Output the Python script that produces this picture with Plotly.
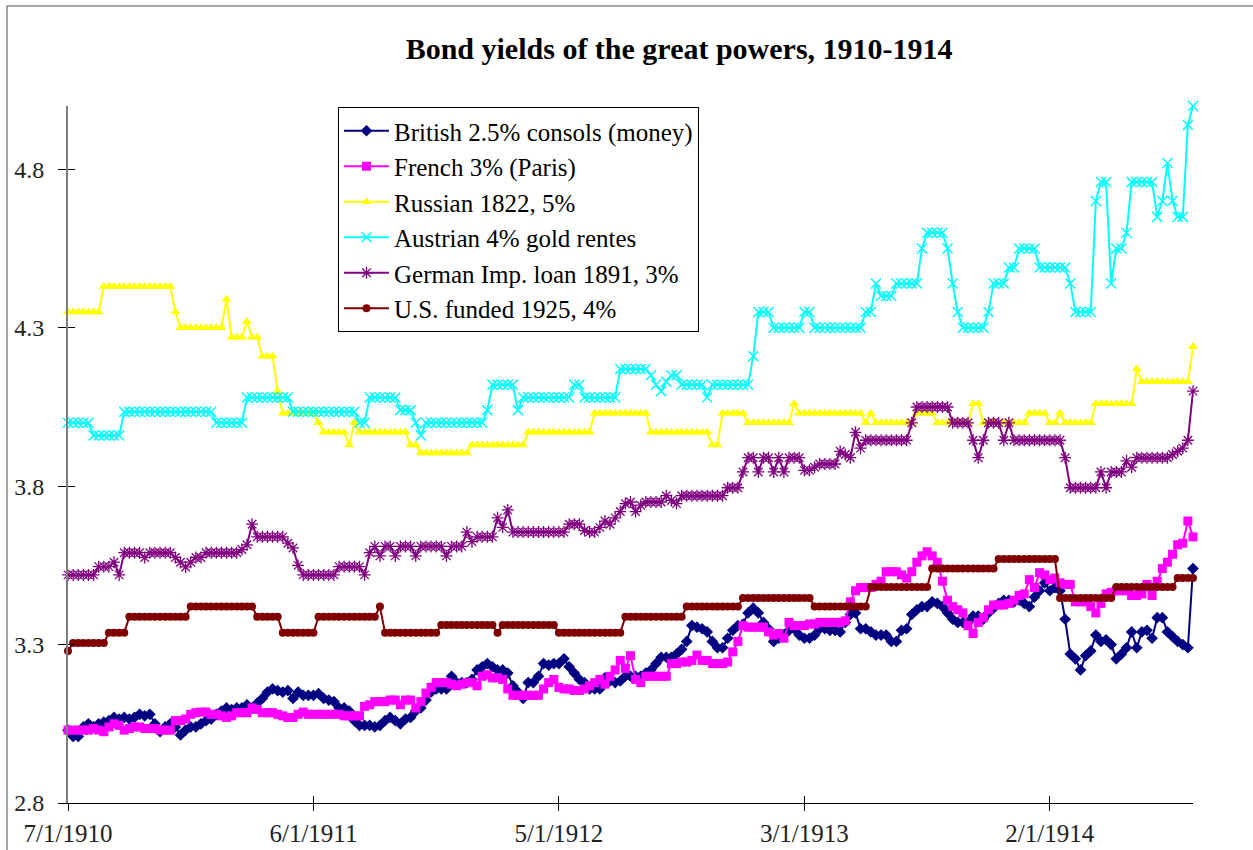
import plotly.graph_objects as go

tick_labels = ["7/1/1910", "6/1/1911", "5/1/1912", "3/1/1913", "2/1/1914"]
tick_weeks = [0, 48, 96, 144, 192]

british = [
    3.03, 3.01, 3.01, 3.04, 3.05, 3.04, 3.05, 3.055, 3.06, 3.07,
    3.065, 3.07, 3.065, 3.07, 3.08, 3.075, 3.08, 3.05, 3.025, 3.04,
    3.05, 3.04, 3.015, 3.03, 3.04, 3.04, 3.05, 3.06, 3.065, 3.08,
    3.09, 3.10, 3.095, 3.10, 3.10, 3.11, 3.10, 3.115, 3.13, 3.15,
    3.16, 3.155, 3.15, 3.155, 3.13, 3.15, 3.14, 3.14, 3.14, 3.145,
    3.13, 3.125, 3.12, 3.10, 3.10, 3.09, 3.06, 3.045, 3.045, 3.045,
    3.04, 3.045, 3.06, 3.07, 3.06, 3.05, 3.065, 3.07, 3.09, 3.10,
    3.125, 3.15, 3.16, 3.16, 3.16, 3.20, 3.18, 3.18, 3.18, 3.19,
    3.22, 3.23, 3.24, 3.23, 3.22, 3.22, 3.21, 3.17, 3.15, 3.13,
    3.18, 3.18, 3.20, 3.24, 3.235, 3.24, 3.24, 3.255, 3.23, 3.21,
    3.19, 3.18, 3.16, 3.16, 3.16, 3.195, 3.185, 3.18, 3.185, 3.20,
    3.20, 3.20, 3.20, 3.21, 3.22, 3.24, 3.26, 3.26, 3.26, 3.27,
    3.285, 3.31, 3.36, 3.355, 3.35, 3.34, 3.31, 3.29, 3.29, 3.32,
    3.345, 3.36, 3.365, 3.40, 3.415, 3.40, 3.37, 3.35, 3.31, 3.32,
    3.33, 3.345, 3.35, 3.33, 3.32, 3.32, 3.33, 3.35, 3.35, 3.345,
    3.345, 3.34, 3.37, 3.395, 3.40, 3.35, 3.35, 3.34, 3.33, 3.33,
    3.33, 3.31, 3.31, 3.345, 3.35, 3.395, 3.41, 3.42, 3.42, 3.435,
    3.43, 3.42, 3.40, 3.38, 3.37, 3.37, 3.37, 3.39, 3.39, 3.38,
    3.40, 3.415, 3.43, 3.44, 3.44, 3.435, 3.44, 3.43, 3.42, 3.45,
    3.47, 3.495, 3.47, 3.48, 3.47, 3.38, 3.27, 3.255, 3.22, 3.265,
    3.28, 3.33, 3.31, 3.315, 3.30, 3.255, 3.27, 3.29, 3.34, 3.29,
    3.34, 3.345, 3.32, 3.385, 3.385, 3.34, 3.325, 3.31, 3.30, 3.29,
    3.54,
]

french = [
    3.03, 3.03, 3.03, 3.03, 3.03, 3.035, 3.03, 3.025, 3.04, 3.05,
    3.045, 3.03, 3.035, 3.04, 3.04, 3.035, 3.035, 3.035, 3.03, 3.03,
    3.03, 3.06, 3.06, 3.065, 3.08, 3.085, 3.087, 3.087, 3.08, 3.08,
    3.075, 3.07, 3.075, 3.085, 3.085, 3.085, 3.10, 3.095, 3.085, 3.085,
    3.085, 3.08, 3.075, 3.07, 3.07, 3.08, 3.087, 3.08, 3.08, 3.08,
    3.08, 3.08, 3.08, 3.08, 3.075, 3.075, 3.075, 3.075, 3.105, 3.11,
    3.12, 3.12, 3.12, 3.125, 3.125, 3.11, 3.125, 3.125, 3.10, 3.12,
    3.147, 3.165, 3.18, 3.18, 3.18, 3.175, 3.17, 3.175, 3.18, 3.18,
    3.17, 3.20, 3.205, 3.195, 3.195, 3.19, 3.16, 3.14, 3.14, 3.14,
    3.14, 3.14, 3.14, 3.16, 3.18, 3.19, 3.165, 3.16, 3.16, 3.155,
    3.155, 3.16, 3.17, 3.18, 3.19, 3.175, 3.20, 3.22, 3.25, 3.225,
    3.265, 3.19, 3.18, 3.20, 3.20, 3.20, 3.20, 3.20, 3.24, 3.24,
    3.245, 3.245, 3.25, 3.267, 3.25, 3.25, 3.24, 3.24, 3.24, 3.245,
    3.277, 3.31, 3.36, 3.355, 3.355, 3.355, 3.355, 3.34, 3.33, 3.335,
    3.32, 3.37, 3.36, 3.36, 3.36, 3.365, 3.365, 3.37, 3.37, 3.37,
    3.37, 3.37, 3.375, 3.435, 3.47, 3.48, 3.48, 3.48, 3.49, 3.50,
    3.53, 3.53, 3.53, 3.52, 3.51, 3.53, 3.56, 3.58, 3.593, 3.58,
    3.56, 3.50, 3.44, 3.42, 3.41, 3.40, 3.36, 3.335, 3.37, 3.385,
    3.41, 3.425, 3.425, 3.425, 3.43, 3.44, 3.455, 3.46, 3.505, 3.48,
    3.527, 3.52, 3.505, 3.51, 3.495, 3.49, 3.49, 3.435, 3.435, 3.435,
    3.42, 3.40, 3.43, 3.46, 3.465, 3.47, 3.47, 3.47, 3.455, 3.455,
    3.46, 3.49, 3.455, 3.50, 3.54, 3.56, 3.585, 3.615, 3.62, 3.69,
    3.64,
]

# step-like series stored as (value, number of consecutive weeks)
russian_runs = [
    (4.35, 7), (4.43, 14), (4.35, 1), (4.30, 9), (4.39, 1), (4.27, 3), (4.32, 1),
    (4.27, 2), (4.21, 3), (4.10, 1), (4.03, 7), (4.00, 1), (3.97, 5), (3.93, 1),
    (4.00, 1), (3.97, 10), (3.93, 2), (3.905, 10), (3.93, 11), (3.97, 13),
    (4.03, 11), (3.97, 12), (3.93, 2), (4.03, 5), (4.00, 9), (4.06, 1),
    (4.03, 13), (4.00, 1), (4.03, 1), (4.00, 8), (4.03, 4), (4.00, 7), (4.06, 2),
    (4.00, 9), (4.03, 4), (4.00, 2), (4.03, 1), (4.00, 6), (4.06, 8), (4.17, 1),
    (4.13, 10), (4.24, 1),
]

austrian_runs = [
    (4.00, 5), (3.96, 6), (4.035, 18), (4.00, 6), (4.08, 9), (4.035, 13),
    (4.00, 2), (4.08, 6), (4.04, 3), (4.00, 1), (3.96, 1), (4.00, 12), (4.04, 1),
    (4.12, 5), (4.04, 1), (4.08, 10), (4.12, 2), (4.08, 7), (4.17, 6), (4.15, 1),
    (4.12, 1), (4.10, 1), (4.13, 1), (4.15, 2), (4.12, 5), (4.08, 1), (4.12, 8),
    (4.21, 1), (4.35, 3), (4.30, 6), (4.35, 2), (4.30, 10), (4.35, 2), (4.44, 1),
    (4.40, 3), (4.44, 5), (4.55, 1), (4.60, 4), (4.55, 1), (4.44, 1), (4.35, 1),
    (4.30, 5), (4.35, 1), (4.44, 3), (4.49, 2), (4.55, 4), (4.49, 6), (4.44, 1),
    (4.35, 4), (4.70, 1), (4.76, 2), (4.44, 1), (4.55, 2), (4.60, 1), (4.76, 5),
    (4.65, 1), (4.70, 1), (4.82, 1), (4.70, 1), (4.65, 2), (4.94, 1), (5.00, 1),
]

german_runs = [
    (3.52, 6), (3.546, 3), (3.56, 1), (3.52, 1), (3.59, 4), (3.575, 1), (3.59, 5),
    (3.575, 1), (3.56, 1), (3.545, 1), (3.56, 1), (3.575, 2), (3.59, 7), (3.60, 1),
    (3.615, 1), (3.68, 1), (3.64, 6), (3.62, 1), (3.605, 1), (3.55, 1), (3.52, 7),
    (3.546, 5), (3.52, 1), (3.59, 1), (3.61, 1), (3.58, 1), (3.61, 2), (3.58, 1),
    (3.61, 3), (3.58, 1), (3.61, 5), (3.58, 1), (3.61, 3), (3.655, 1), (3.625, 1),
    (3.64, 4), (3.70, 1), (3.67, 1), (3.725, 1), (3.655, 11), (3.68, 3), (3.66, 1),
    (3.655, 2), (3.67, 1), (3.69, 1), (3.68, 1), (3.70, 1), (3.72, 1), (3.745, 1),
    (3.75, 1), (3.72, 1), (3.74, 1), (3.75, 4), (3.77, 1), (3.755, 1), (3.745, 1),
    (3.77, 9), (3.795, 3), (3.845, 1), (3.89, 2), (3.845, 1), (3.89, 2), (3.845, 1),
    (3.89, 1), (3.845, 1), (3.89, 3), (3.85, 2), (3.86, 1), (3.87, 4), (3.91, 1),
    (3.90, 1), (3.89, 1), (3.97, 1), (3.92, 1), (3.945, 9), (4.00, 1), (4.05, 7),
    (4.00, 4), (3.945, 1), (3.89, 1), (3.945, 1), (4.00, 3), (3.945, 1), (4.00, 1),
    (3.945, 10), (3.89, 1), (3.795, 6), (3.845, 1), (3.795, 1), (3.845, 3),
    (3.88, 1), (3.86, 1), (3.89, 7), (3.90, 1), (3.91, 1), (3.92, 1), (3.945, 1),
    (4.10, 1),
]

us_runs = [
    (3.28, 1), (3.305, 7), (3.337, 4), (3.388, 12), (3.42, 13), (3.388, 5),
    (3.337, 7), (3.388, 12), (3.42, 1), (3.337, 11), (3.362, 11), (3.337, 1),
    (3.362, 11), (3.337, 13), (3.388, 12), (3.42, 11), (3.447, 14), (3.42, 11),
    (3.482, 12), (3.54, 13), (3.57, 12), (3.447, 11), (3.482, 12), (3.51, 4),
]


def expand(runs):
    out = []
    for v, c in runs:
        out.extend([v] * c)
    return out


russian = expand(russian_runs)
austrian = expand(austrian_runs)
german = expand(german_runs)
us = expand(us_runs)

N = len(british)
for s in (french, russian, austrian, german, us):
    assert len(s) == N, (len(s), N)
weeks = list(range(N))

# ---------------- figure ----------------
FONT = "Liberation Serif"
series = [
    ("British 2.5% consols (money)", british, "#000080", "diamond", 9, None),
    ("French 3% (Paris)", french, "#FF00FF", "square", 9, None),
    ("Russian 1822, 5%", russian, "#FFFF00", "triangle-up", 9, None),
    ("Austrian 4% gold rentes", austrian, "#00FFFF", "x-thin", 10, 1.5),
    ("German Imp. loan 1891, 3%", german, "#800080", "asterisk", 10, 1.3),
    ("U.S. funded 1925, 4%", us, "#800000", "circle", 8, None),
]

fig = go.Figure()
for name, vals, color, sym, size, lw in series:
    marker = dict(symbol=sym, size=size, color=color)
    if lw:
        marker["line"] = dict(width=lw, color=color)
    else:
        marker["line"] = dict(width=0)
    fig.add_trace(go.Scatter(
        x=weeks, y=vals, name=name, mode="lines+markers",
        line=dict(color=color, width=2), marker=marker, cliponaxis=False,
    ))

# invisible trace to host the overlay axes that draw the inner half of the cross ticks
fig.add_trace(go.Scatter(x=[None], y=[None], xaxis="x2", yaxis="y2",
                         showlegend=False, hoverinfo="skip"))

x_rng = [0, N - 1]
y_rng = [2.8, 5.0]
ytickfont = dict(family=FONT, size=24, color="#222222")
xtickfont = dict(family=FONT, size=25, color="#222222")

fig.update_layout(
    width=1253, height=850,
    margin=dict(l=68, r=60, t=106, b=47),
    paper_bgcolor="white", plot_bgcolor="white",
    title=dict(text="<b>Bond yields of the great powers, 1910-1914</b>",
               x=0.542, xref="container", xanchor="center",
               y=1 - 48 / 850, yref="container", yanchor="middle",
               font=dict(family=FONT, size=30, color="black")),
    showlegend=True,
    legend=dict(x=0.24, y=(803 - 107) / 697, xanchor="left", yanchor="top",
                bgcolor="white", bordercolor="black", borderwidth=1,
                font=dict(family=FONT, size=25, color="black"),
                itemwidth=45, tracegroupgap=0),
    xaxis=dict(range=x_rng, tickvals=tick_weeks, ticktext=tick_labels,
               showline=True, linecolor="black", linewidth=1,
               ticks="outside", ticklen=7, tickcolor="black", tickwidth=1,
               tickfont=xtickfont, showgrid=False, zeroline=False,
               automargin=False, ticklabelstandoff=1),
    xaxis2=dict(range=x_rng, overlaying="x", tickvals=tick_weeks,
                showticklabels=False, ticks="inside", ticklen=7,
                tickcolor="black", showline=False, showgrid=False,
                zeroline=False),
    yaxis=dict(range=y_rng, tick0=2.8, dtick=0.5, tickformat=".1f",
               showline=True, linecolor="#808080", linewidth=2,
               ticks="outside", ticklen=8, tickcolor="black", tickwidth=1,
               tickfont=ytickfont, showgrid=False, zeroline=False,
               automargin=False, ticklabelstandoff=9),
    yaxis2=dict(range=y_rng, overlaying="y", tick0=2.8, dtick=0.5,
                showticklabels=False, ticks="inside", ticklen=7,
                tickcolor="black", showline=False, showgrid=False,
                zeroline=False),
    shapes=[dict(type="rect", xref="paper", yref="paper",
                 x0=(7 - 68) / 1125, x1=1.2, y0=-0.3, y1=(803 - 6) / 697,
                 line=dict(color="#888888", width=1.5), layer="below")],
)

# remove the default page margin so the 1253x850 figure fills the window exactly
fig.write_html("out.html",
               config={"displayModeBar": False},
               post_script="document.body.style.margin='0';document.body.style.overflow='hidden';")
